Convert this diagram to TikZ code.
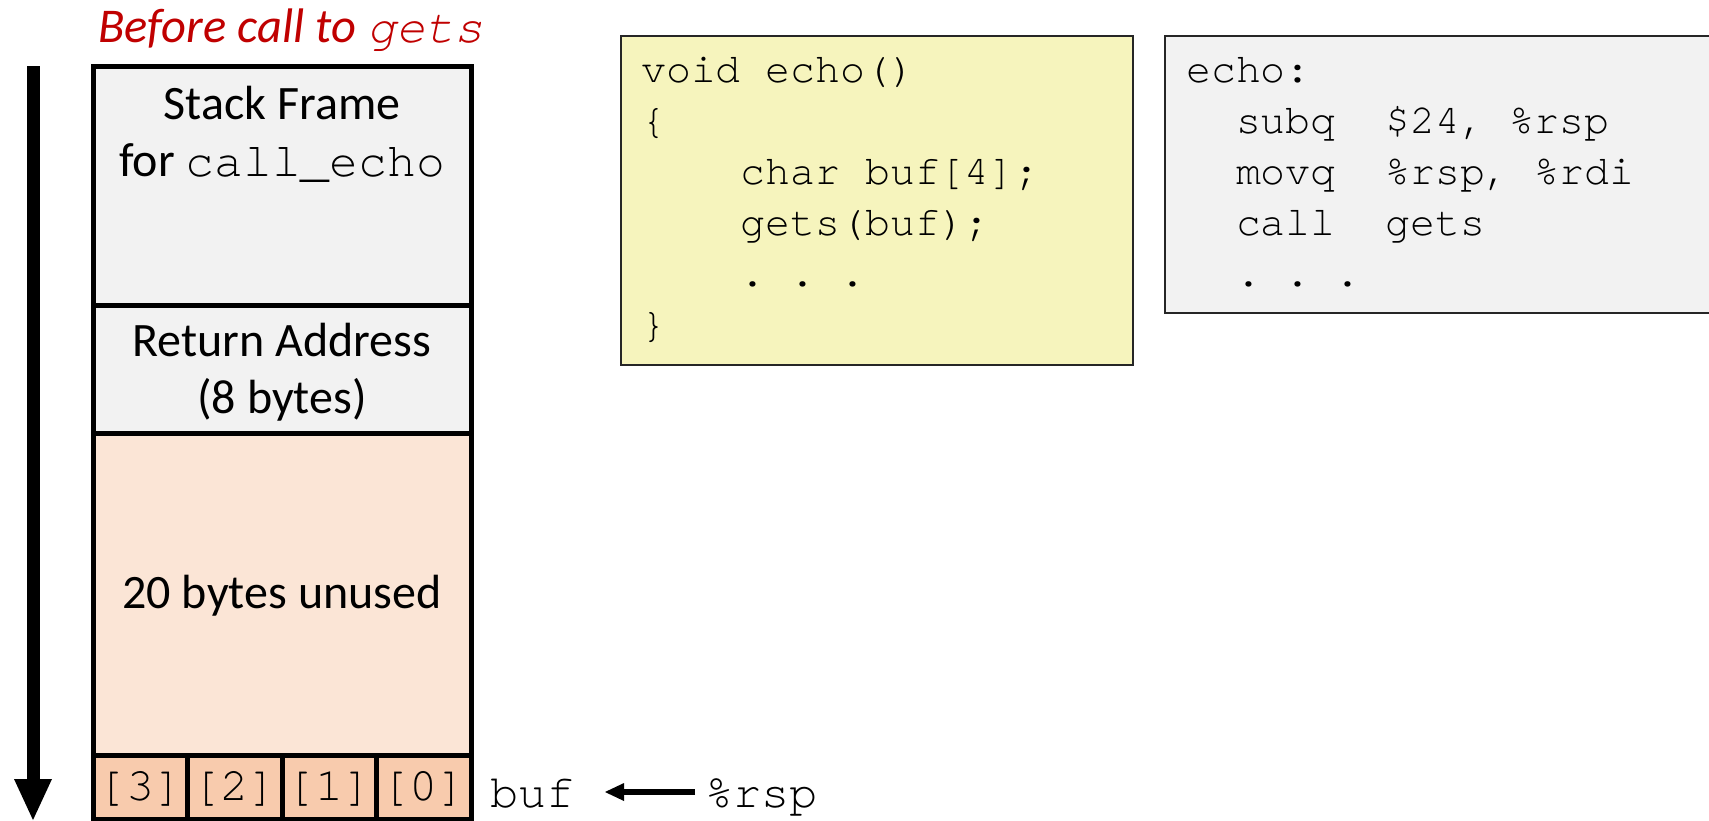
\documentclass[tikz,border=0pt]{standalone}
\usepackage{fontspec}
\setmainfont{Carlito}
\setmonofont{TeX Gyre Cursor}
\usetikzlibrary{arrows.meta}
\definecolor{ttred}{HTML}{C00000}
\definecolor{framegray}{HTML}{F2F2F2}
\definecolor{unusedpeach}{HTML}{FBE5D6}
\definecolor{cellpeach}{HTML}{F8CBAD}
\definecolor{codeyellow}{HTML}{F6F4BD}
\begin{document}
\begin{tikzpicture}[x=1pt,y=-1pt,
  slot/.style={draw=black, line width=5pt, rectangle, anchor=north west, inner sep=0pt, outer sep=0pt},
  lbl/.style={font=\fontsize{48}{57}\selectfont, align=center, inner sep=0pt},
  monolbl/.style={font=\fontsize{47}{47}\selectfont\ttfamily, inner sep=0pt},
  cellbox/.style={slot, fill=cellpeach, minimum width=94.5pt, minimum height=64pt},
  celltext/.style={font=\fontsize{47}{47}\selectfont\ttfamily, inner sep=0pt},
  codebox/.style={draw=black!85, line width=2.5pt, rectangle, anchor=north west, inner sep=0pt, outer sep=0pt},
  codeline/.style={font=\fontsize{41.5}{41.5}\selectfont\ttfamily, anchor=base west, inner sep=0pt},
]
\clip (0,0) rectangle (1709,820);
\fill[white] (0,0) rectangle (1709,820);

% title
\node[anchor=base west, text=ttred, font=\fontsize{48.5}{48.5}\selectfont\itshape, inner sep=0pt] (title) at (98,42) {Before call to \texttt{gets}};

% stack
\node[slot, fill=framegray, minimum width=378pt, minimum height=239pt] (sf) at (93,66) {};
\node[slot, fill=framegray, minimum width=378pt, minimum height=128pt] (ra) at (93,305) {};
\node[slot, fill=unusedpeach, minimum width=378pt, minimum height=322pt] (un) at (93,433) {};
\node[cellbox] (b3) at (93,755) {};
\node[cellbox] (b2) at (187.5,755) {};
\node[cellbox] (b1) at (282,755) {};
\node[cellbox] (b0) at (376.5,755) {};
\node[celltext] (t3) at (140.25,789) {[3]};
\node[celltext] (t2) at (234.75,789) {[2]};
\node[celltext] (t1) at (329.25,789) {[1]};
\node[celltext] (t0) at (423.75,789) {[0]};

\node[lbl] (sftext) at (282,134) {Stack Frame\\for \texttt{call\_echo}};
\node[lbl] (ratext) at (282,372) {Return Address\\(8 bytes)};
\node[lbl] (untext) at (282,596) {20 bytes unused};

% growth arrow
\coordinate (atop) at (33,66);
\coordinate (abot) at (33,820);
\draw[line width=13pt, -{Triangle[length=41pt,width=38pt,line width=0pt]}] (atop) -- (abot);

% buf / rsp
\node[monolbl, anchor=base west] (buf) at (490,807) {buf};
\node[monolbl, anchor=base west] (rsp) at (705,807) {\%rsp};
\draw[line width=6pt, -{Triangle[length=19pt,width=18pt,line width=0pt]}] ([xshift=-10pt,yshift=15pt]rsp.base west) -- ([xshift=30pt,yshift=15pt]buf.base east);

% C code box
\node[codebox, fill=codeyellow, minimum width=512pt, minimum height=329pt] (cbox) at (621,36) {};
\node[codeline] (c1) at (641,82) {void echo()};
\node[codeline] (c2) at (641,133) {\{};
\node[codeline] (c3) at (641,184) {~~~~char buf[4];};
\node[codeline] (c4) at (641,235) {~~~~gets(buf);};
\node[codeline] (c5) at (641,286) {~~~~. . .};
\node[codeline] (c6) at (641,337) {\}};

% asm box
\node[codebox, fill=framegray, minimum width=600pt, minimum height=277pt] (abox) at (1165,36) {};
\node[codeline] (a1) at (1186,82) {echo:};
\node[codeline] (a2) at (1186,133) {~~subq~~\$24, \%rsp};
\node[codeline] (a3) at (1186,184) {~~movq~~\%rsp, \%rdi};
\node[codeline] (a4) at (1186,235) {~~call~~gets};
\node[codeline] (a5) at (1186,286) {~~. . .};
\end{tikzpicture}
\end{document}
